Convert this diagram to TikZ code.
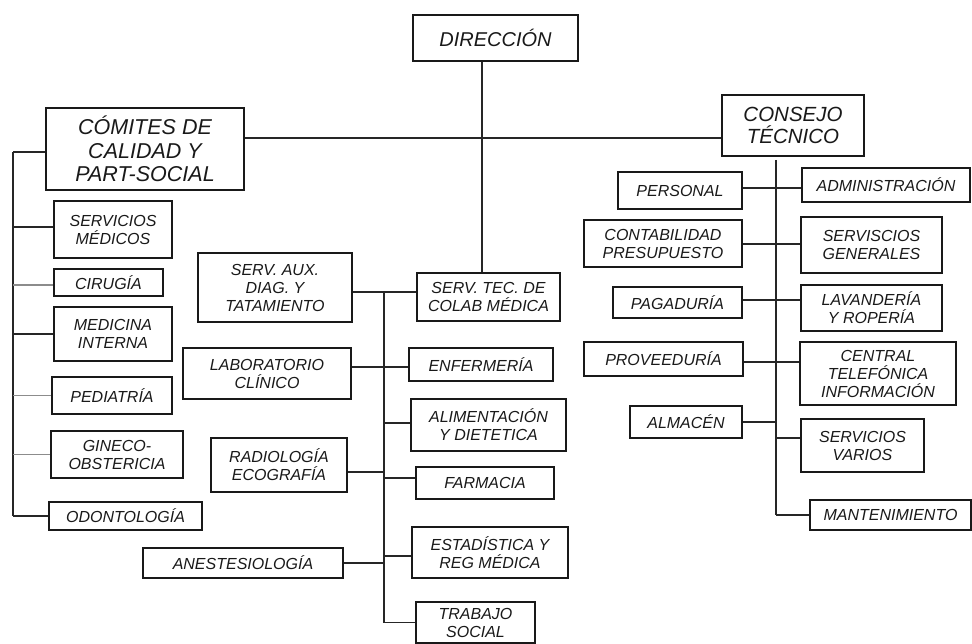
\documentclass[tikz,border=0pt]{standalone}
\usepackage{fontspec}
\setmainfont{Liberation Sans}
\begin{document}
\begin{tikzpicture}[x=1pt,y=-1pt,
  box/.style={draw=black!90, line width=1.3pt, inner sep=0pt, align=center,
    text=black!90, font=\fontsize{16}{18}\selectfont\itshape},
  bigbox/.style={box, font=\fontsize{20.5}{22.5}\selectfont\itshape},
  conn/.style={draw=black!85, line width=1.2pt},
  lconn/.style={draw=black!45, line width=1.2pt}]
\useasboundingbox (0,0) rectangle (972,644);
% top
\node[box, font=\fontsize{20}{22}\selectfont\itshape, minimum width=165, minimum height=46] (dir) at (495.5,38) {DIRECCIÓN};
\node[bigbox, font=\fontsize{21.5}{23.5}\selectfont\itshape, minimum width=198, minimum height=82] (comites) at (145,149) {CÓMITES DE\\CALIDAD Y\\PART-SOCIAL};
\node[bigbox, minimum width=142, minimum height=61] (consejo) at (793,125.5) {CONSEJO\\TÉCNICO};
% left column
\node[box, minimum width=118, minimum height=57] (smed) at (113,229.5) {SERVICIOS\\MÉDICOS};
\node[box, minimum width=109, minimum height=27] (cir) at (108.5,282.5) {CIRUGÍA};
\node[box, minimum width=118, minimum height=54] (medi) at (113,334) {MEDICINA\\INTERNA};
\node[box, minimum width=120, minimum height=37] (ped) at (112,395.5) {PEDIATRÍA};
\node[box, minimum width=132, minimum height=47] (gin) at (117,454.5) {GINECO-\\OBSTERICIA};
\node[box, minimum width=153, minimum height=28] (odo) at (125.5,516) {ODONTOLOGÍA};
% center
\node[box, minimum width=154, minimum height=69] (aux) at (275,287.5) {SERV. AUX.\\DIAG. Y\\TATAMIENTO};
\node[box, minimum width=143, minimum height=48] (tec) at (488.5,297) {SERV. TEC. DE\\COLAB MÉDICA};
\node[box, minimum width=168, minimum height=51] (lab) at (267,373.5) {LABORATORIO\\CLÍNICO};
\node[box, minimum width=144, minimum height=33] (enf) at (481,364.5) {ENFERMERÍA};
\node[box, minimum width=155, minimum height=52] (ali) at (488.5,425) {ALIMENTACIÓN\\Y DIETETICA};
\node[box, minimum width=136, minimum height=54] (rad) at (279,465) {RADIOLOGÍA\\ECOGRAFÍA};
\node[box, minimum width=138, minimum height=32] (far) at (485,483) {FARMACIA};
\node[box, minimum width=200, minimum height=30] (ane) at (243,563) {ANESTESIOLOGÍA};
\node[box, minimum width=156, minimum height=51] (est) at (490,552.5) {ESTADÍSTICA Y\\REG MÉDICA};
\node[box, minimum width=119, minimum height=41] (tra) at (475.5,622.5) {TRABAJO\\SOCIAL};
% right
\node[box, minimum width=124, minimum height=37] (pers) at (680,190.5) {PERSONAL};
\node[box, minimum width=168, minimum height=34] (adm) at (886,185) {ADMINISTRACIÓN};
\node[box, minimum width=158, minimum height=47] (cont) at (663,243.5) {CONTABILIDAD\\PRESUPUESTO};
\node[box, minimum width=141, minimum height=56] (sgen) at (871.5,245) {SERVISCIOS\\GENERALES};
\node[box, minimum width=129, minimum height=31] (pag) at (677.5,302.5) {PAGADURÍA};
\node[box, minimum width=141, minimum height=46] (lav) at (871.5,308) {LAVANDERÍA\\Y ROPERÍA};
\node[box, minimum width=159, minimum height=34] (prov) at (663.5,359) {PROVEEDURÍA};
\node[box, minimum width=156, minimum height=63] (cen) at (878,373.5) {CENTRAL\\TELEFÓNICA\\INFORMACIÓN};
\node[box, minimum width=112, minimum height=32] (alm) at (686,422) {ALMACÉN};
\node[box, minimum width=123, minimum height=53] (svar) at (862.5,445.5) {SERVICIOS\\VARIOS};
\node[box, minimum width=161, minimum height=30] (mant) at (890.5,515) {MANTENIMIENTO};
% spine coordinates
\coordinate (dv) at (482,0);
\coordinate (ls) at (13,0);
\coordinate (cs) at (384,0);
\coordinate (rs) at (776,0);
% top connectors
\draw[conn] (dv |- dir.south) -- (dv |- tec.north);
\draw[conn] (comites.east |- 0,138) -- (consejo.west |- 0,138);
% left spine
\draw[conn] (ls |- 0,152) -- (ls |- odo.west);
\draw[conn] (ls |- 0,152) -- (comites.west |- 0,152);
\draw[conn] (ls |- 0,227) -- (smed.west |- 0,227);
\draw[lconn] (ls |- 0,285) -- (cir.west |- 0,285);
\draw[conn] (ls |- medi.west) -- (medi.west);
\draw[lconn] (ls |- ped.west) -- (ped.west);
\draw[lconn] (ls |- gin.west) -- (gin.west);
\draw[conn] (ls |- odo.west) -- (odo.west);
% center spine
\draw[conn] (aux.east |- 0,292) -- (tec.west |- 0,292);
\draw[conn] (cs |- 0,292) -- (cs |- tra.west);
\draw[conn] (lab.east |- 0,367) -- (enf.west |- 0,367);
\draw[conn] (cs |- 0,423) -- (ali.west |- 0,423);
\draw[conn] (rad.east |- 0,472) -- (cs |- 0,472);
\draw[conn] (cs |- 0,478) -- (far.west |- 0,478);
\draw[conn] (ane.east) -- (cs |- ane.east);
\draw[conn] (cs |- 0,556) -- (est.west |- 0,556);
\draw[conn] (cs |- tra.west) -- (tra.west);
% right spine
\draw[conn] (rs |- 0,160) -- (rs |- mant.west);
\draw[conn] (pers.east |- 0,188) -- (adm.west |- 0,188);
\draw[conn] (cont.east |- 0,244) -- (sgen.west |- 0,244);
\draw[conn] (pag.east |- 0,300) -- (lav.west |- 0,300);
\draw[conn] (prov.east |- 0,362) -- (cen.west |- 0,362);
\draw[conn] (alm.east) -- (rs |- alm.east);
\draw[conn] (rs |- 0,438) -- (svar.west |- 0,438);
\draw[conn] (rs |- mant.west) -- (mant.west);
\end{tikzpicture}
\end{document}
